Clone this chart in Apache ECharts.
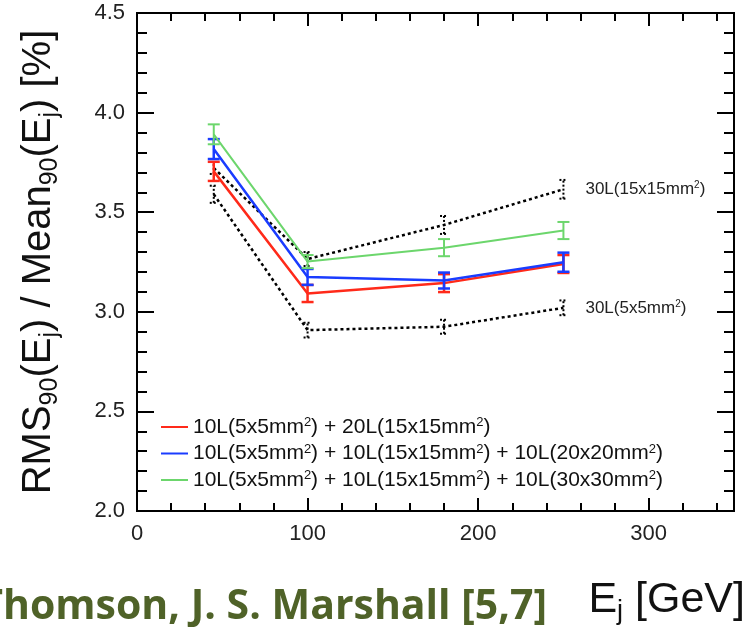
<!DOCTYPE html>
<html>
<head>
<meta charset="utf-8">
<script src="https://cdn.jsdelivr.net/npm/echarts@6/dist/echarts.min.js"></script>
<style>
html,body{margin:0;padding:0;background:#fff;}
#c{width:750px;height:627px;}
</style>
</head>
<body>
<div id="c"></div>
<script>
// ---- data ----
const energies = [45, 100, 180, 250];
const redVals   = [3.705, 3.092, 3.144, 3.240];
const redErr    = [0.048, 0.043, 0.045, 0.045];
const blueVals  = [3.817, 3.175, 3.157, 3.249];
const blueErr   = [0.050, 0.040, 0.040, 0.048];
const greenVals = [3.891, 3.252, 3.322, 3.408];
const greenErr  = [0.050, 0.033, 0.043, 0.043];
const l15Vals   = [3.722, 3.265, 3.436, 3.615];
const l15Err    = [0.030, 0.035, 0.045, 0.047];
const l5Vals    = [3.590, 2.908, 2.925, 3.020];
const l5Err     = [0.043, 0.037, 0.035, 0.037];
const redName   = '10L(5x5mm²) + 20L(15x15mm²)';
const blueName  = '10L(5x5mm²) + 10L(15x15mm²) + 10L(20x20mm²)';
const greenName = '10L(5x5mm²) + 10L(15x15mm²) + 10L(30x30mm²)';
const l15Name   = '30L(15x15mm²)';
const l5Name    = '30L(5x5mm²)';
const xTicks = [0, 100, 200, 300];

const FONT = '"Liberation Sans", Arial, Helvetica, sans-serif';
const pts = (vals) => energies.map((e, i) => [e, vals[i]]);
const errs = (vals, err) => energies.map((e, i) => [e, vals[i] - err[i], vals[i] + err[i]]);
const supRich = (name) => '{t|' + name.replace(/²/g, '}{s|2}{t|') + '}';

function errRender(color, dashed, w, lw) {
  return function (params, api) {
    const x = api.value(0);
    const lo = api.coord([x, api.value(1)]);
    const hi = api.coord([x, api.value(2)]);
    const style = {stroke: color, lineWidth: lw, lineDash: dashed ? [2, 2] : null, fill: null};
    return {type: 'group', children: [
      {type: 'line', shape: {x1: lo[0], y1: lo[1], x2: hi[0], y2: hi[1]}, style: style},
      {type: 'line', shape: {x1: lo[0] - w, y1: lo[1], x2: lo[0] + w, y2: lo[1]}, style: style},
      {type: 'line', shape: {x1: hi[0] - w, y1: hi[1], x2: hi[0] + w, y2: hi[1]}, style: style}
    ]};
  };
}

const axisLine = {show: true, onZero: false, lineStyle: {color: '#000', width: 2}};
function xAx(pos, interval, len, labels) {
  return {
    type: 'value', min: 0, max: 350, interval: interval, position: pos, offset: 0,
    axisLine: axisLine, splitLine: {show: false},
    axisTick: {show: true, inside: true, length: len, lineStyle: {color: '#000', width: 2}},
    axisLabel: labels ? {show: true, fontSize: 22, color: '#222', fontFamily: FONT, margin: 12,
      formatter: (v) => xTicks.indexOf(v) >= 0 ? String(v) : ''} : {show: false}
  };
}
function yAx(pos, interval, len, labels) {
  const a = {
    type: 'value', min: 2, max: 4.5, interval: interval, position: pos, offset: 0,
    axisLine: axisLine, splitLine: {show: false},
    axisTick: {show: true, inside: true, length: len, lineStyle: {color: '#000', width: 2}},
    axisLabel: labels ? {show: true, fontSize: 22, color: '#222', fontFamily: FONT, margin: 12,
      formatter: (v) => v.toFixed(1)} : {show: false}
  };
  if (labels) {
    a.name = '{r|RMS}{b|90}{r|(E}{b|j}{r|) / Mean}{b|90}{r|(E}{b|j}{r|) [%]}';
    a.nameLocation = 'middle';
    a.nameGap = 74;
    a.nameTextStyle = {
      fontFamily: FONT, color: '#111',
      rich: {
        r: {fontSize: 40, lineHeight: 48, fontFamily: FONT, color: '#111'},
        b: {fontSize: 25, lineHeight: 25, verticalAlign: 'bottom', fontFamily: FONT, color: '#111'}
      }
    };
  }
  return a;
}

const chart = echarts.init(document.getElementById('c'), null, {renderer: 'canvas'});
chart.setOption({
  animation: false,
  backgroundColor: '#fff',
  grid: {left: 137, right: 16, top: 13, bottom: 116, containLabel: false, outerBoundsMode: 'none'},
  xAxis: [xAx('bottom', 100, 13, true), xAx('bottom', 20, 8, false), xAx('top', 100, 13, false), xAx('top', 20, 8, false)],
  yAxis: [yAx('left', 0.5, 17, true), yAx('left', 0.1, 10, false), yAx('right', 0.5, 17, false), yAx('right', 0.1, 10, false)],
  legend: {
    data: [redName, blueName, greenName],
    orient: 'vertical', left: 161, top: 416, padding: 0, itemGap: 5,
    itemWidth: 27, itemHeight: 2, icon: 'rect',
    formatter: supRich,
    textStyle: {
      fontFamily: FONT, color: '#111',
      rich: {
        t: {fontSize: 21, lineHeight: 22, fontFamily: FONT, color: '#111'},
        s: {fontSize: 13, lineHeight: 12, verticalAlign: 'top', fontFamily: FONT, color: '#111'}
      }
    }
  },
  graphic: [
    {type: 'text', x: 745, y: 600,
      style: {text: '{r|E}{b|j}{r| [GeV]}', align: 'right', verticalAlign: 'middle',
        textAlign: 'right', textVerticalAlign: 'middle',
        rich: {
          r: {fontSize: 43, lineHeight: 50, fontFamily: FONT, fill: '#111', color: '#111'},
          b: {fontSize: 27, lineHeight: 26, verticalAlign: 'bottom', fontFamily: FONT, fill: '#111', color: '#111'}
        }}},
    {type: 'text', x: 547, y: 607,
      style: {text: 'Thomson, J. S. Marshall [5,7]', align: 'right', verticalAlign: 'middle',
        textAlign: 'right', textVerticalAlign: 'middle',
        font: 'bold 41px "Open Sans", "Noto Sans", sans-serif', fill: '#4f6228'}}
  ],
  series: [
    {name: l5Name, type: 'line', data: pts(l5Vals), symbol: 'none', z: 2,
      lineStyle: {color: '#000', width: 2.5, type: [3, 3]},
      endLabel: {show: true, formatter: () => supRich(l5Name), distance: 22,
        rich: {t: {fontSize: 17, fontFamily: FONT, color: '#222', lineHeight: 18},
               s: {fontSize: 10, lineHeight: 10, verticalAlign: 'top', fontFamily: FONT, color: '#222'}}}},
    {name: l15Name, type: 'line', data: pts(l15Vals), symbol: 'none', z: 2,
      lineStyle: {color: '#000', width: 2.5, type: [3, 3]},
      endLabel: {show: true, formatter: () => supRich(l15Name), distance: 22,
        rich: {t: {fontSize: 17, fontFamily: FONT, color: '#222', lineHeight: 18},
               s: {fontSize: 10, lineHeight: 10, verticalAlign: 'top', fontFamily: FONT, color: '#222'}}}},
    {name: l5Name + ' err', type: 'custom', data: errs(l5Vals, l5Err), encode: {x: 0, y: [1, 2]},
      renderItem: errRender('#000', true, 4, 2), z: 2},
    {name: l15Name + ' err', type: 'custom', data: errs(l15Vals, l15Err), encode: {x: 0, y: [1, 2]},
      renderItem: errRender('#000', true, 4, 2), z: 2},
    {name: redName, type: 'line', data: pts(redVals), symbol: 'none', color: '#ff2a1a', z: 3,
      lineStyle: {color: '#ff2a1a', width: 2.5}},
    {name: redName + ' err', type: 'custom', data: errs(redVals, redErr), encode: {x: 0, y: [1, 2]},
      renderItem: errRender('#ff2a1a', false, 6, 2.5), z: 3},
    {name: blueName, type: 'line', data: pts(blueVals), symbol: 'none', color: '#1a3cff', z: 4,
      lineStyle: {color: '#1a3cff', width: 2.5}},
    {name: blueName + ' err', type: 'custom', data: errs(blueVals, blueErr), encode: {x: 0, y: [1, 2]},
      renderItem: errRender('#1a3cff', false, 6, 2.5), z: 4},
    {name: greenName, type: 'line', data: pts(greenVals), symbol: 'none', color: '#6cd66c', z: 5,
      lineStyle: {color: '#6cd66c', width: 2}},
    {name: greenName + ' err', type: 'custom', data: errs(greenVals, greenErr), encode: {x: 0, y: [1, 2]},
      renderItem: errRender('#6cd66c', false, 6, 2), z: 5}
  ]
});
</script>
</body>
</html>
